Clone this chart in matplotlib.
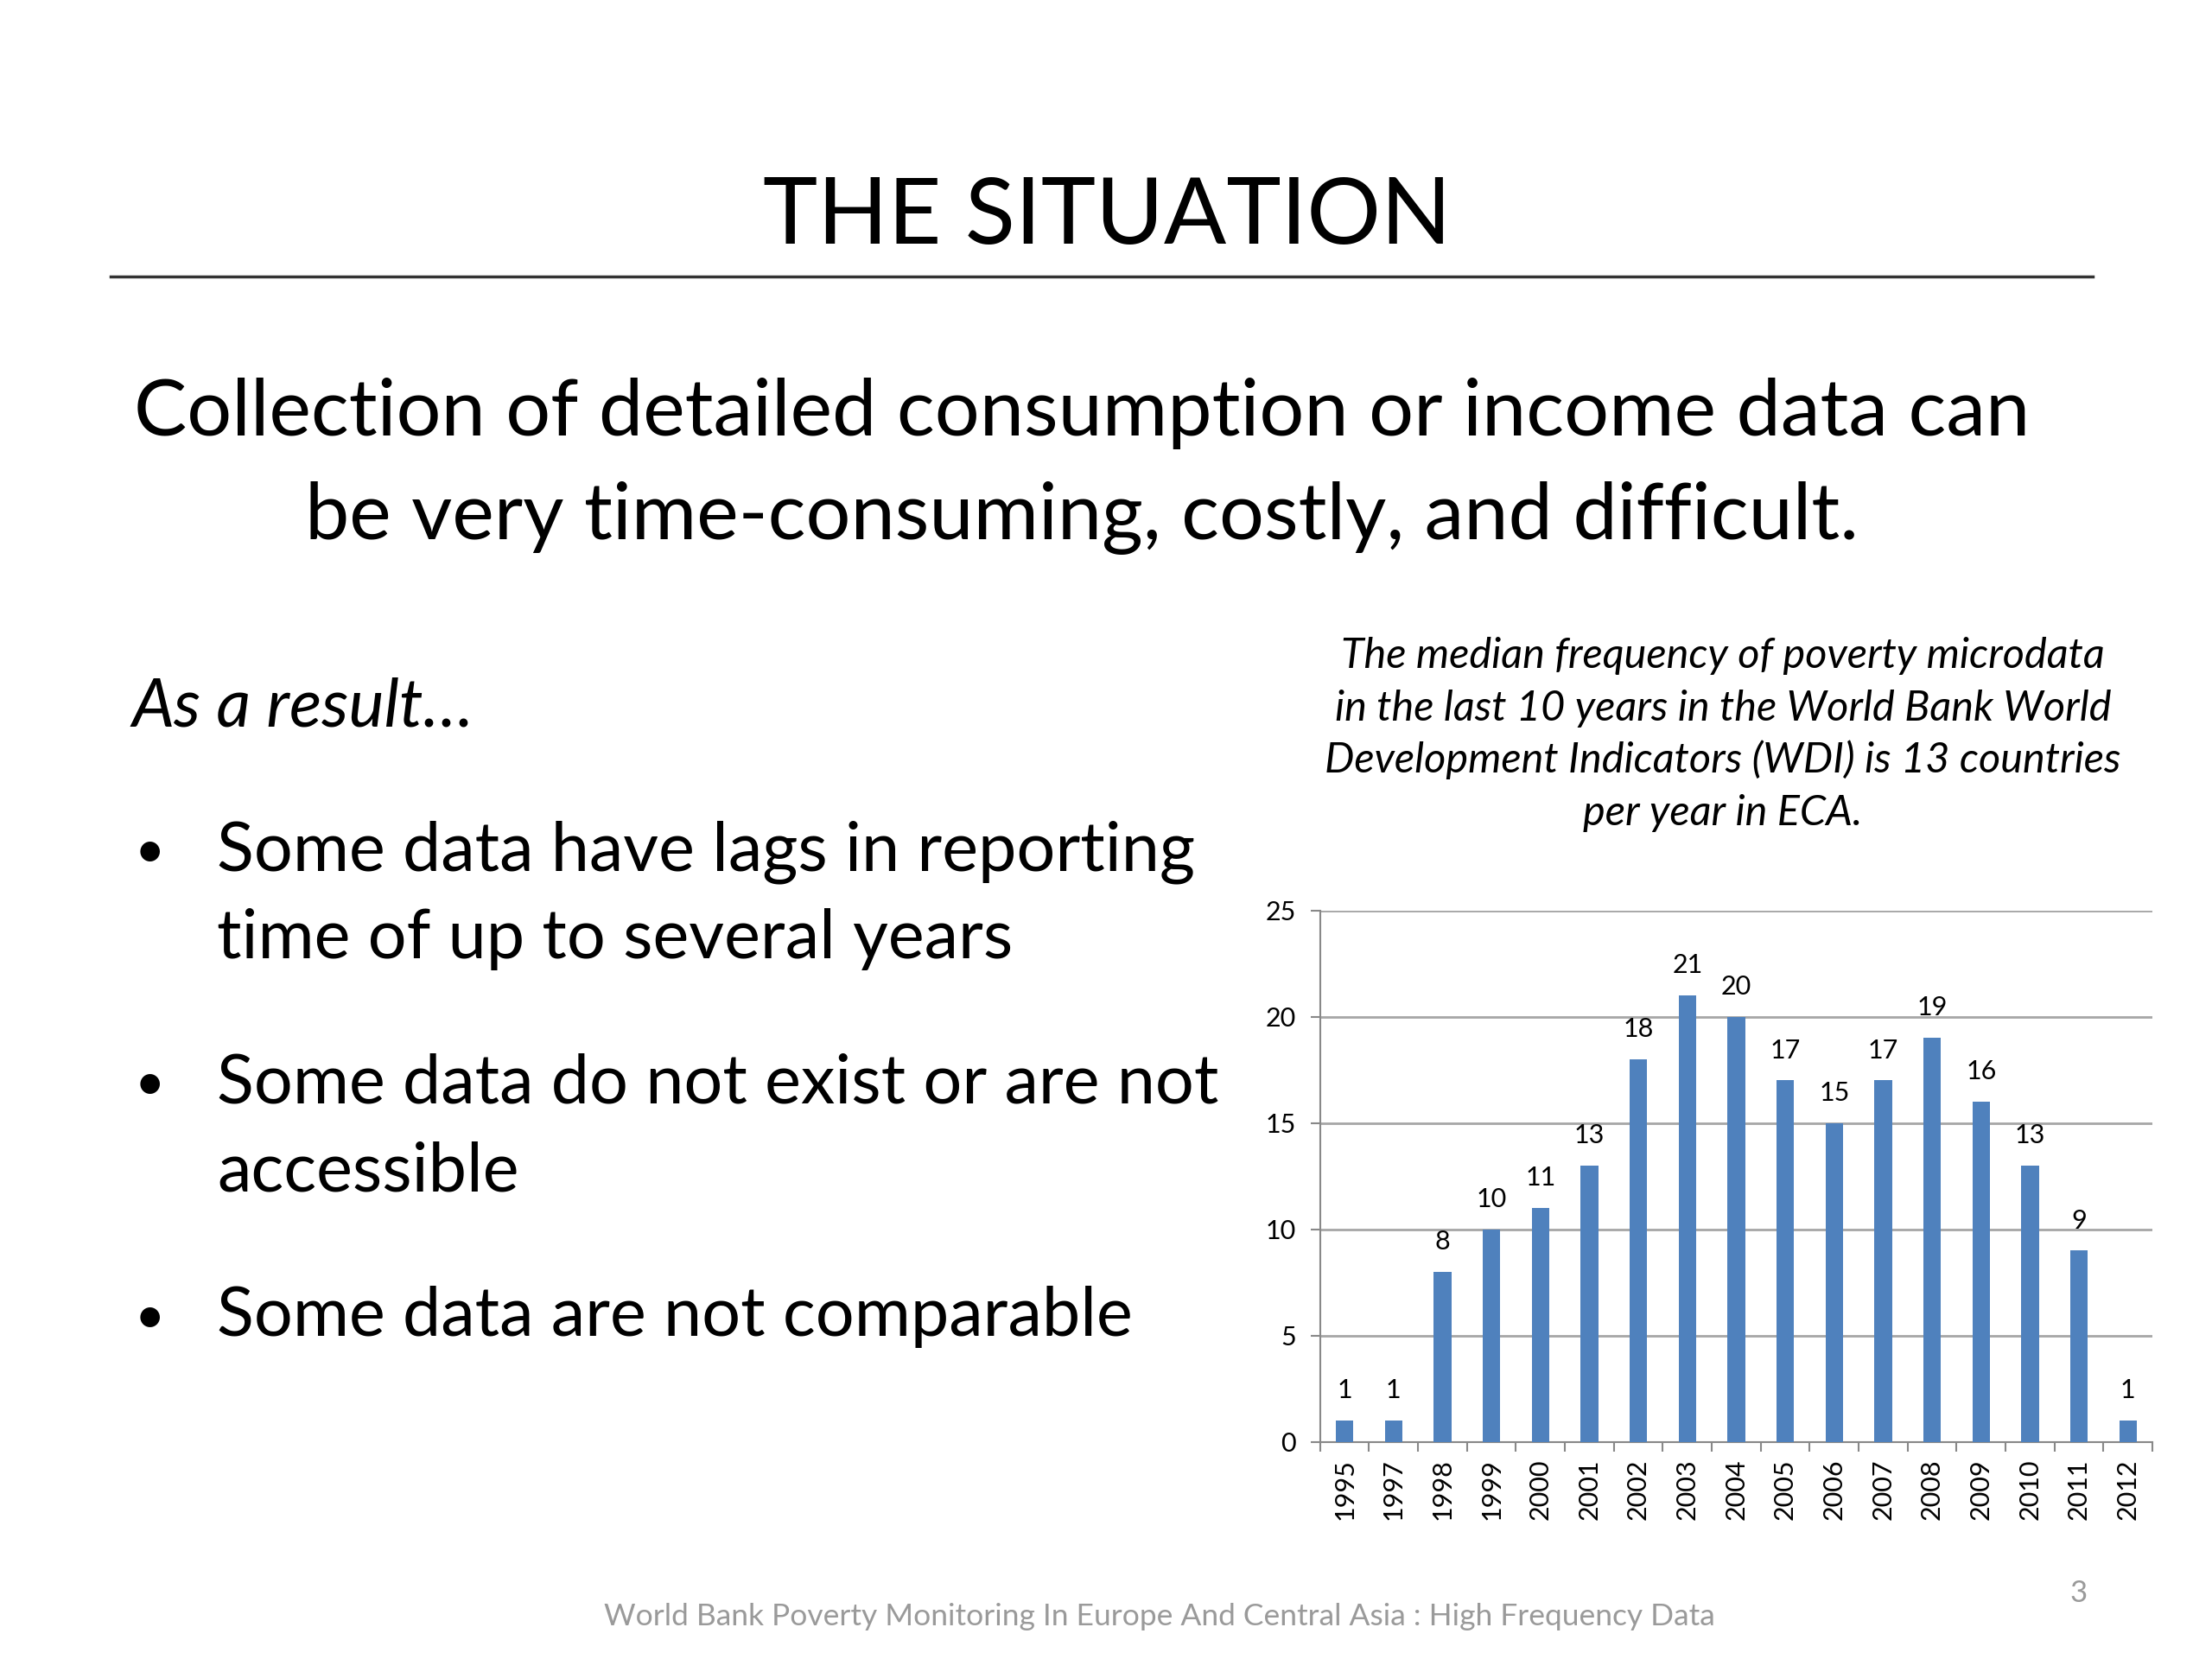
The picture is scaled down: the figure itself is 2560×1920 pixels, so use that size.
import numpy as np
from matplotlib import pyplot as plt

years = ['1995', '1997', '1998', '1999', '2000', '2001', '2002', '2003', '2004',
         '2005', '2006', '2007', '2008', '2009', '2010', '2011', '2012']
countries = [1, 1, 8, 10, 11, 13, 18, 21, 20, 17, 15, 17, 19, 16, 13, 9, 1]

title = 'THE SITUATION'
lead = ['Collection of detailed consumption or income data can',
        'be very time-consuming, costly, and difficult.']
bullets = [['Some data have lags in reporting', 'time of up to several years'],
           ['Some data do not exist or are not', 'accessible'],
           ['Some data are not comparable']]
caption = ['The median frequency of poverty microdata',
           'in the last 10 years in the World Bank World',
           'Development Indicators (WDI) is 13 countries',
           'per year in ECA.']
footer = 'World Bank Poverty Monitoring In Europe And Central Asia : High Frequency Data'

plt.rcParams['font.family'] = ['Lato', 'DejaVu Sans']

W, H = 1560.0, 1170.0   # layout measured on a 1560x1170 grid
def fx(x): return x / W
def fy(y): return 1 - y / H

fig = plt.figure(figsize=(25.6, 19.2), dpi=100)

fig.text(fx(781), fy(172), title, ha='center', va='baseline', fontsize=77)
fig.add_artist(plt.Line2D([fx(78), fx(1476)], [fy(195), fy(195)], color='#333333', lw=2.5))

fig.text(fx(763), fy(307), lead[0], ha='center', va='baseline', fontsize=66)
fig.text(fx(763), fy(380), lead[1], ha='center', va='baseline', fontsize=66)

fig.text(fx(93), fy(512), 'As a result…', ha='left', va='baseline', fontsize=56, style='italic')

bl = [[614, 676], [778, 840], [942]]
for lines, ys in zip(bullets, bl):
    fig.text(fx(95), fy(ys[0] - 2), '•', ha='left', va='baseline', fontsize=44)
    for t, y in zip(lines, ys):
        fig.text(fx(153), fy(y), t, ha='left', va='baseline', fontsize=57)

for i, t in enumerate(caption):
    fig.text(fx(1215), fy(471 + 37 * i), t, ha='center', va='baseline', fontsize=35, style='italic')

fig.text(fx(818), fy(1146), footer, ha='center', va='baseline', fontsize=25.5, color='#9a9a9a')
fig.text(fx(1466), fy(1130), '3', ha='center', va='baseline', fontsize=25, color='#9a9a9a')

ax = fig.add_axes([fx(931), fy(1017), fx(1518) - fx(931), fy(642) - fy(1017)])
x = np.arange(len(years))
bars = ax.bar(x, countries, width=0.36, color='#4F81BD', zorder=3)
ax.bar_label(bars, labels=[str(v) for v in countries], padding=15, fontsize=22)

ax.set_xlim(-0.5, len(years) - 0.5)
ax.set_ylim(0, 25)
ax.set_yticks([0, 5, 10, 15, 20, 25])
ax.yaxis.grid(True, color='#a6a6a6', lw=2, zorder=0)
ax.set_xticks(x)
ax.set_xticklabels(years, rotation=90, fontsize=22)
ax.set_xticks(np.arange(-0.5, len(years)), minor=True)
ax.tick_params(axis='x', which='major', length=0, pad=14)
ax.tick_params(axis='x', which='minor', length=8, width=1.5, color='#888888', direction='out')
ax.tick_params(axis='y', length=8, width=1.5, color='#888888', labelsize=22, pad=12)
for s in ['top', 'right']:
    ax.spines[s].set_visible(False)
for s in ['left', 'bottom']:
    ax.spines[s].set_color('#888888')
    ax.spines[s].set_linewidth(1.5)

fig.savefig('out.png', dpi=100)
